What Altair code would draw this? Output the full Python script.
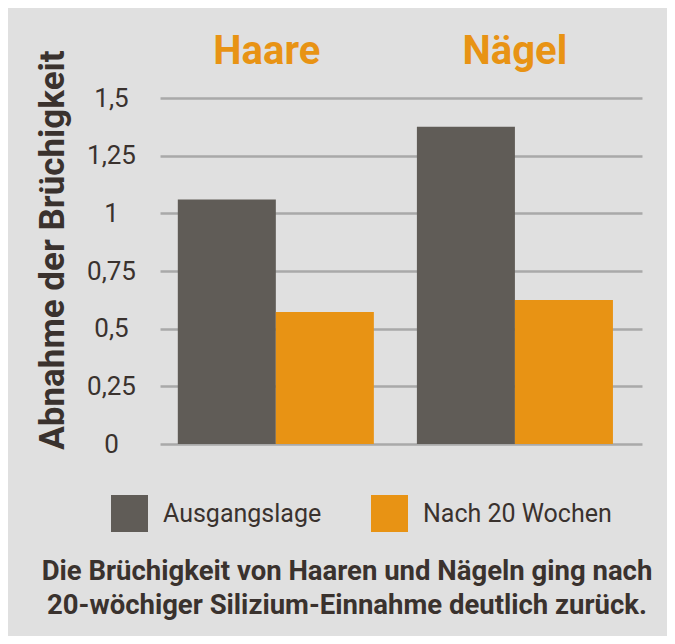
import altair as alt
import pandas as pd

# ---- data ----
groups = ["Haare", "Nägel"]
series = ["Ausgangslage", "Nach 20 Wochen"]
ausgangslage = [1.06, 1.375]
nach_20_wochen = [0.572, 0.624]
tick_values = [0, 0.25, 0.5, 0.75, 1, 1.25, 1.5]
y_title = "Abnahme der Brüchigkeit"
caption_lines = [
    "Die Brüchigkeit von Haaren und Nägeln ging nach",
    "20-wöchiger Silizium-Einnahme deutlich zurück.",
]

rows = []
for g, a, n in zip(groups, ausgangslage, nach_20_wochen):
    rows.append({"Gruppe": g, "Serie": series[0], "Wert": a})
    rows.append({"Gruppe": g, "Serie": series[1], "Wert": n})
df = pd.DataFrame(rows)

FONT = "Roboto"
TEXT = "#3a322e"
GRAY = "#605c57"
ORANGE = "#e89314"
BG = "#e0e0e0"

bars = alt.Chart(df).mark_bar().encode(
    x=alt.X(
        "Gruppe:N",
        sort=groups,
        scale=alt.Scale(paddingInner=0.18, paddingOuter=0.098, align=0.38),
        axis=alt.Axis(
            orient="top", title=None, labelAngle=0, labelFont=FONT,
            labelFontSize=40, labelFontWeight="bold", labelColor=ORANGE,
            labelBaseline="alphabetic", labelPadding=35, ticks=False, tickSize=0,
            labelOffset={"condition": {"test": "datum.label == 'Haare'", "value": -9},
                         "value": 0},
            domain=False, grid=False,
        ),
    ),
    xOffset=alt.XOffset("Serie:N", sort=series,
                        scale=alt.Scale(paddingInner=0, paddingOuter=0)),
    y=alt.Y(
        "Wert:Q",
        scale=alt.Scale(domain=[0, 1.5], nice=False),
        axis=alt.Axis(
            values=tick_values, grid=True, gridColor="#a9a9a9", gridWidth=2.5,
            domain=False, ticks=False, tickSize=0, labelPadding=49,
            labelAlign="center", labelBaseline="middle", labelFont=FONT,
            labelFontSize=26, labelColor=TEXT,
            labelExpr="replace('' + datum.value, '.', ',')",
            title=y_title, titleFont=FONT, titleFontSize=35,
            titleFontWeight="bold", titleColor=TEXT, titleAngle=270,
            titleX=-97, titleY=151.5, titleAlign="center",
            titleBaseline="alphabetic",
        ),
    ),
    color=alt.Color(
        "Serie:N", sort=series,
        scale=alt.Scale(domain=series, range=[GRAY, ORANGE]),
        legend=alt.Legend(
            orient="none", legendX=-49, legendY=397, direction="horizontal",
            title=None, symbolType="square", symbolSize=1369,
            symbolStrokeWidth=0, symbolOpacity=1, labelFont=FONT,
            labelFontSize=25, labelColor=TEXT, labelOffset=15, labelLimit=400,
            columnPadding=49, padding=0,
        ),
    ),
)

caption = alt.Chart(alt.Data(values=[{"t": "\n".join(caption_lines)}])).mark_text(
    font=FONT, fontSize=27.5, fontWeight="bold", color=TEXT, align="center",
    baseline="alphabetic", lineBreak="\n", lineHeight=34,
).encode(text="t:N", x=alt.value(187), y=alt.value(482))

chart = alt.layer(bars, caption).properties(
    width=482, height=346,
    autosize=alt.AutoSizeParams(type="none"),
    padding={"left": 152, "top": 90, "right": 25, "bottom": 192},
    background=BG,
).configure_view(stroke=None)

chart.save("out.html", embed_options={"renderer": "svg", "actions": False})
